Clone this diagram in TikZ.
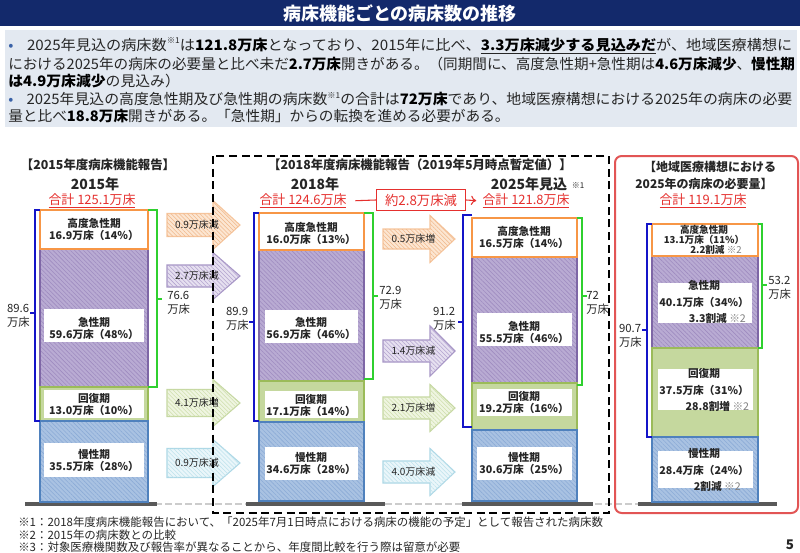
\documentclass[tikz,border=0pt]{standalone}
\usepackage{fontspec}
\usepackage{graphicx}
\setmainfont{Noto Sans CJK JP}
\usetikzlibrary{patterns.meta,arrows.meta}
\definecolor{navy}{HTML}{13296B}
\definecolor{bgbox}{HTML}{E3E9F1}
\definecolor{bulblue}{HTML}{3A62A7}
\definecolor{txt}{HTML}{262626}
\definecolor{redt}{HTML}{E5302E}
\definecolor{redbox}{HTML}{E25555}
\definecolor{orB}{HTML}{F79646}
\definecolor{puF}{HTML}{B9ABD3}
\definecolor{puH}{HTML}{9F8CC0}
\definecolor{puB}{HTML}{7E66A6}
\definecolor{grF}{HTML}{C5D89E}
\definecolor{grB}{HTML}{9BBB59}
\definecolor{blF}{HTML}{A9C2E2}
\definecolor{blH}{HTML}{8CABD6}
\definecolor{blB}{HTML}{4F81BD}
\definecolor{brBlue}{HTML}{1414C8}
\definecolor{brGreen}{HTML}{2FD02F}
\definecolor{gnd}{HTML}{595959}
\definecolor{gndl}{HTML}{CCCCCC}
\definecolor{aoF}{HTML}{FCE6D2}\definecolor{aoH}{HTML}{F0B88C}\definecolor{aoB}{HTML}{F6C59C}
\definecolor{apF}{HTML}{E6E0F0}\definecolor{apH}{HTML}{B3A3CF}\definecolor{apB}{HTML}{A796C6}
\definecolor{agF}{HTML}{EFF5E1}\definecolor{agH}{HTML}{CFDFAC}\definecolor{agB}{HTML}{C6D8A2}
\definecolor{abF}{HTML}{EAF6FA}\definecolor{abH}{HTML}{BEE2EC}\definecolor{abB}{HTML}{ADD8E6}
\newcommand\Bf[1]{{\bfseries\color{black}#1}}
\newcommand\kome[1]{\raisebox{0.45em}{\fontsize{6}{6}\selectfont ※#1}}
\newcommand\fitw[2]{\resizebox{#1}{\height}{#2}}
\newcommand\fatarrow[9]{%
  \draw[#8] (#2,{#5-#6}) -- (#3,{#5-#6}) -- (#3,{#5-#7}) -- (#4,#5) -- (#3,{#5+#7}) -- (#3,{#5+#6}) -- (#2,{#5+#6}) -- cycle;
  \node[arrlab] (#1) at ({(#2+#3)/2+7},#5) {#9};}
\newcommand\drawbar[7]{%
  \fill[hatchP] (#1,#4) rectangle (#2,#5);
  \draw[puB,line width=1.4pt] (#1,#4) rectangle (#2,#5);
  \fill[grF] (#1,#5) rectangle (#2,#6);
  \draw[grB,line width=1.4pt] (#1,#5) rectangle (#2,#6);
  \fill[hatchB] (#1,#6) rectangle (#2,#7);
  \draw[blB,line width=1.4pt] (#1,#6) rectangle (#2,#7);
  \draw[orB,line width=2.2pt,fill=white] (#1,#3) rectangle (#2,#4);}
\newcommand\bbracket[5]{%
  \draw[brBlue,line width=1.8pt] (#1,#3) -- (#2,#3) -- (#2,#4) -- (#1,#4);
  \draw[brBlue,line width=1.8pt] (#2,#5) -- ({#2-5},#5);}
\newcommand\gbracket[5]{%
  \draw[brGreen,line width=1.8pt] (#1,#3) -- (#2,#3) -- (#2,#4) -- (#1,#4);
  \draw[brGreen,line width=1.8pt] (#2,#5) -- ({#2+5},#5);}
\tikzset{
  hatchP/.style={fill=puF,postaction={pattern={Lines[angle=-45,distance=2.3pt,line width=0.45pt]},pattern color=puH}},
  hatchB/.style={fill=blF,postaction={pattern={Lines[angle=-45,distance=2.3pt,line width=0.45pt]},pattern color=blH}},
  arrO/.style={draw=aoB,line width=0.8pt,fill=aoF,postaction={pattern={Lines[angle=-45,distance=2.2pt,line width=0.4pt]},pattern color=aoH}},
  arrP/.style={draw=apB,line width=0.8pt,fill=apF,postaction={pattern={Lines[angle=-45,distance=2.2pt,line width=0.4pt]},pattern color=apH}},
  arrG/.style={draw=agB,line width=0.8pt,fill=agF,postaction={pattern={Lines[angle=-45,distance=2.2pt,line width=0.4pt]},pattern color=agH}},
  arrB/.style={draw=abB,line width=0.8pt,fill=abF,postaction={pattern={Lines[angle=-45,distance=2.2pt,line width=0.4pt]},pattern color=abH}},
  arrlab/.style={font=\fontsize{7.5}{8}\selectfont,text=txt,inner sep=0pt},
  blab/.style={font=\fontsize{8}{9}\selectfont\bfseries,text=txt,align=center,inner sep=0pt},
  rlab/.style={font=\fontsize{7.2}{7.5}\selectfont\bfseries,text=txt,align=center,inner sep=0pt},
  brlab/.style={font=\fontsize{8.5}{10}\selectfont,text=txt,align=left,inner sep=0pt},
  hdr/.style={font=\fontsize{9.3}{11}\selectfont\bfseries,text=txt,inner sep=0pt},
  yr/.style={font=\fontsize{10.5}{12}\selectfont\bfseries,text=txt,inner sep=0pt},
  tot/.style={font=\fontsize{9.7}{11}\selectfont,text=redt,inner sep=0.5pt},
  bul/.style={font=\fontsize{10.8}{12}\selectfont,text=txt,inner sep=0pt,anchor=west},
  foot/.style={font=\fontsize{8.6}{10}\selectfont,text=txt,inner sep=0pt,anchor=west},
}
\begin{document}
\begin{tikzpicture}[x=0.75pt,y=-0.75pt]
\useasboundingbox (0,0) rectangle (800,553);
\fill[white] (0,0) rectangle (800,553);
% title
\fill[navy] (0,0) rectangle (800,26);
\node[font=\fontsize{13.5}{14}\selectfont\bfseries,text=white,inner sep=0pt] (title) at (400,13) {病床機能ごとの病床数の推移};
% bullets
\fill[bgbox] (5,30) rectangle (797,127);
\node[bul] (l1) at (8,46) {\fitw{588pt}{\textcolor{bulblue}{•}\hspace{0.9em}2025年見込の病床数\kome{1}は\Bf{121.8万床}となっており、2015年に比べ、\underline{\Bf{3.3万床減少する見込みだ}}が、地域医療構想に}};
\node[bul] (l2) at (8,64) {\fitw{590pt}{における2025年の病床の必要量と比べ未だ\Bf{2.7万床}開きがある。（同期間に、高度急性期+急性期は\Bf{4.6万床減少}、\Bf{慢性期}}};
\node[bul] (l3) at (8,81) {\scalebox{1.03}[1]{\Bf{は4.9万床減少}の見込み）}};
\node[bul] (l4) at (8,99) {\fitw{588pt}{\textcolor{bulblue}{•}\hspace{0.9em}2025年見込の高度急性期及び急性期の病床数\kome{1}の合計は\Bf{72万床}であり、地域医療構想における2025年の病床の必要}};
\node[bul] (l5) at (8,116) {\fitw{376pt}{量と比べ\Bf{18.8万床}開きがある。「急性期」からの転換を進める必要がある。}};
% headers
\node[hdr] (h15) at (98,165) {【2015年度病床機能報告】};
\node[yr] (y15) at (95,184) {2015年};
\node[tot] (t15) at (92,201) {\underline{合計 125.1万床}};
\node[hdr] (h18) at (420,165) {【2018年度病床機能報告（2019年5月時点暫定値）】};
\node[yr] (y18) at (315,184) {2018年};
\node[tot] (t18) at (303,201) {\underline{合計 124.6万床}};
\node[yr] (y25) at (529,184) {2025年見込};
\node[font=\fontsize{6}{6}\selectfont,text=txt,inner sep=0pt] (k25) at (578,186) {※1};
\node[tot] (t25) at (526,201) {\underline{合計 121.8万床}};
\node[draw=redt,line width=0.8pt,fill=white,text=redt,font=\fontsize{10}{11}\selectfont,minimum width=67pt,minimum height=16pt,inner sep=0pt] (dec) at (421,200) {約2.8万床減};
\draw[redt,line width=0.8pt,shorten <=6pt] (t18.east) -- (dec.west);
\draw[redt,line width=0.8pt,-{To[length=4pt,width=7pt]},shorten >=4pt] (dec.east) -- (t25.west);
\node[hdr,font=\fontsize{9}{11}\selectfont\bfseries] (hr1) at (710,167) {【地域医療構想における};
\node[hdr,font=\fontsize{9}{11}\selectfont\bfseries] (hr2) at (704,184) {2025年の病床の必要量】};
\node[tot] (tr) at (703,201) {\underline{合計 119.1万床}};
% ground
\draw[gndl,line width=1.2pt,dash pattern=on 5pt off 2.5pt] (25,504) -- (777,504);
\draw[gnd,line width=3pt] (25,504) -- (157,504);
\draw[gnd,line width=3pt] (246,504) -- (385,504);
\draw[gnd,line width=3pt] (462,504) -- (593,504);
\draw[gnd,line width=3pt] (638,504) -- (777,504);
% bars
\drawbar{40}{148}{210}{249}{387}{421}{502}
\drawbar{259}{364}{213}{250}{381}{422}{501}
\drawbar{472}{577}{218}{257}{383}{430}{501}
\drawbar{652}{758}{224}{256}{348}{437}{502}
% white label boxes
\fill[white] (44,309) rectangle (144,342);
\fill[white] (44,390) rectangle (144,418);
\fill[white] (44,443) rectangle (144,477);
\fill[white] (265,310) rectangle (358,343);
\fill[white] (265,391) rectangle (358,418);
\fill[white] (265,447) rectangle (358,480);
\fill[white] (477,313) rectangle (572,346);
\fill[white] (477,389) rectangle (572,416);
\fill[white] (477,447) rectangle (572,480);
\fill[white] (658,283) rectangle (752,323);
\fill[white] (658,369) rectangle (753,410);
\fill[white] (658,451) rectangle (753,488);
% bar labels
\node[blab] (s15a) at (94,229) {高度急性期\\16.9万床（14％）};
\node[blab] (s15b) at (94,328) {急性期\\59.6万床（48\%）};
\node[blab] (s15c) at (94,404) {回復期\\13.0万床（10％）};
\node[blab] (s15d) at (94,460) {慢性期\\35.5万床（28\%）};
\node[blab] (s18a) at (311,233) {高度急性期\\16.0万床（13\%）};
\node[blab] (s18b) at (311,328) {急性期\\56.9万床（46\%）};
\node[blab] (s18c) at (311,405) {回復期\\17.1万床（14％）};
\node[blab] (s18d) at (311,463) {慢性期\\34.6万床（28\%）};
\node[blab] (s25a) at (524,237) {高度急性期\\16.5万床（14％）};
\node[blab] (s25b) at (524,332) {急性期\\55.5万床（46\%）};
\node[blab] (s25c) at (524,402) {回復期\\19.2万床（16％）};
\node[blab] (s25d) at (524,463) {慢性期\\30.6万床（25\%）};
\node[rlab] (sra) at (704,240) {高度急性期\\13.1万床（11\%）\\\hspace{2.5em}2.2割減 {\mdseries\color{gray}※2}};
\node[rlab,font=\fontsize{8}{12.5}\selectfont\bfseries] (srb) at (704,302) {急性期\\40.1万床（34\%）\\\hspace{2.5em}3.3割減 {\mdseries\color{gray}※2}};
\node[rlab,font=\fontsize{8}{12.5}\selectfont\bfseries] (src) at (704,390) {回復期\\37.5万床（31\%）\\\hspace{2.5em}28.8割増 {\mdseries\color{gray}※2}};
\node[rlab,font=\fontsize{8}{12.5}\selectfont\bfseries] (srd) at (704,470) {慢性期\\28.4万床（24\%）\\\hspace{2.5em}2割減 {\mdseries\color{gray}※2}};
% brackets
\bbracket{40}{35}{210}{421}{313}
\gbracket{148}{157}{210}{387}{299}
\bbracket{259}{254}{213}{421}{322}
\gbracket{364}{373}{213}{379}{296}
\bbracket{472}{463}{215}{427}{322}
\gbracket{577}{582}{218}{385}{296}
\bbracket{652}{647}{224}{437}{330}
\gbracket{758}{762}{224}{348}{285}
\node[brlab,anchor=east] (c15a) at (30,316) {89.6\\万床};
\node[brlab,anchor=west] (c15b) at (167,303) {76.6\\万床};
\node[brlab,anchor=east] (c18a) at (249,319) {89.9\\万床};
\node[brlab,anchor=west] (c18b) at (379,298) {72.9\\万床};
\node[brlab,anchor=east] (c25a) at (456,319) {91.2\\万床};
\node[brlab,anchor=west] (c25b) at (586,303) {72\\万床};
\node[brlab,anchor=east] (cra) at (642,336) {90.7\\万床};
\node[brlab,anchor=west] (crb) at (768,288) {53.2\\万床};
% arrows
\fatarrow{a1}{167}{213}{240}{225}{11.5}{24.5}{arrO}{0.9万床減}
\fatarrow{a2}{167}{213}{240}{276}{11}{23.5}{arrP}{2.7万床減}
\fatarrow{a3}{167}{213}{240}{403}{13.5}{23.5}{arrG}{4.1万床増}
\fatarrow{a4}{167}{213}{240}{463}{14.5}{23.5}{arrB}{0.9万床減}
\fatarrow{a5}{383}{430}{455}{239}{10}{23.5}{arrO}{0.5万床増}
\fatarrow{a6}{383}{430}{455}{351}{11}{25}{arrP}{1.4万床減}
\fatarrow{a7}{383}{430}{455}{408}{11}{23.5}{arrG}{2.1万床増}
\fatarrow{a8}{383}{430}{455}{472}{11}{23.5}{arrB}{4.0万床減}
% frames
\draw[black,line width=1.5pt,dash pattern=on 6pt off 3.5pt] (213,156) rectangle (609,513);
\draw[redbox,line width=1.5pt,rounded corners=5pt] (615,156) rectangle (798,513);
% footnotes
\node[foot] (f1) at (18,522) {※1：2018年度病床機能報告において、「2025年7月1日時点における病床の機能の予定」として報告された病床数};
\node[foot] (f2) at (18,535) {※2：2015年の病床数との比較};
\node[foot] (f3) at (18,547) {※3：対象医療機関数及び報告率が異なることから、年度間比較を行う際は留意が必要};
\node[font=\fontsize{10}{11}\selectfont\bfseries,text=txt,inner sep=0pt] (pg) at (790,545) {5};
\end{tikzpicture}
\end{document}
